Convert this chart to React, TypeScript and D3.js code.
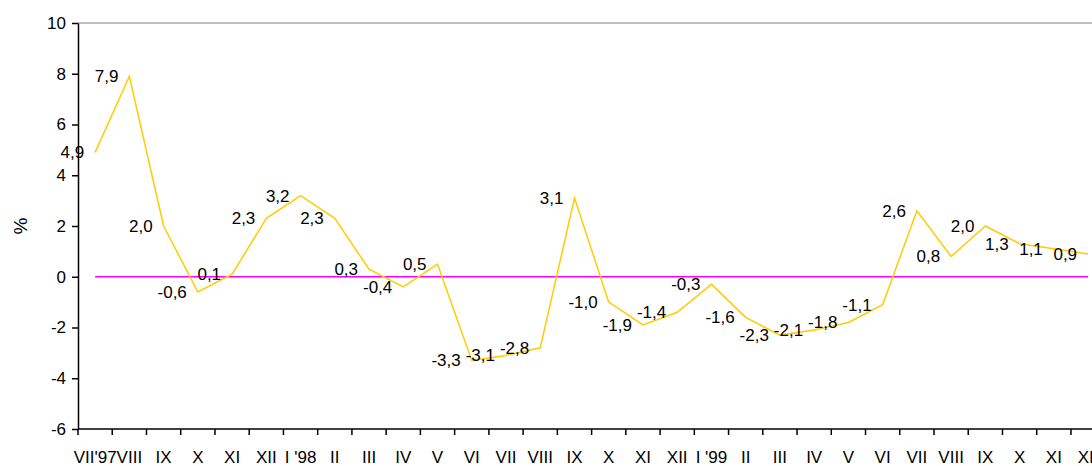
import React, { useEffect, useRef } from 'react';
import * as d3 from 'd3';

const months = ["VII'97", 'VIII', 'IX', 'X', 'XI', 'XII', "I '98", 'II', 'III', 'IV', 'V', 'VI', 'VII', 'VIII', 'IX', 'X', 'XI', 'XII', "I '99", 'II', 'III', 'IV', 'V', 'VI', 'VII', 'VIII', 'IX', 'X', 'XI', 'XII'];
const values = [4.9, 7.9, 2.0, -0.6, 0.1, 2.3, 3.2, 2.3, 0.3, -0.4, 0.5, -3.3, -3.1, -2.8, 3.1, -1.0, -1.9, -1.4, -0.3, -1.6, -2.3, -2.1, -1.8, -1.1, 2.6, 0.8, 2.0, 1.3, 1.1, 0.9];
const yTicks = [-6, -4, -2, 0, 2, 4, 6, 8, 10];

const W = 1092;
const H = 466;
const margin = { top: 23, left: 78, bottom: 429 };
const step = 34.24;
const font = '17px "Liberation Sans", Arial, sans-serif';

const fmt = (v: number) => v.toFixed(1).replace('.', ',');

export default function App() {
  const ref = useRef<SVGSVGElement>(null);

  useEffect(() => {
    const svg = d3.select(ref.current);
    svg.selectAll('*').remove();

    // keys are index-based since month names repeat
    const keys = months.map((_, i) => i);
    const x = d3.scaleBand<number>()
      .domain(keys)
      .range([margin.left, margin.left + step * months.length]);
    const y = d3.scaleLinear().domain([-6, 10]).range([margin.bottom, margin.top]);
    const cx = (i: number) => (x(i) as number) + x.bandwidth() / 2;

    svg.append('rect').attr('width', W).attr('height', H).attr('fill', 'white');

    // plot frame top
    svg.append('line')
      .attr('x1', margin.left).attr('x2', W)
      .attr('y1', margin.top).attr('y2', margin.top)
      .attr('stroke', '#808080').attr('stroke-width', 1);

    // y axis
    const yAxis = svg.append('g')
      .attr('transform', `translate(${margin.left},0)`)
      .call(d3.axisLeft(y).tickValues(yTicks).tickSize(6).tickSizeOuter(0).tickFormat(d => String(d)));
    yAxis.select('.domain').attr('stroke', 'black').attr('stroke-width', 1.5);
    yAxis.selectAll('.tick line').attr('stroke', 'black').attr('stroke-width', 1.5);
    yAxis.selectAll('.tick text')
      .style('font', font).attr('fill', 'black').attr('x', -12);

    // x axis: ticks at category boundaries
    const xg = svg.append('g');
    xg.append('line')
      .attr('x1', margin.left).attr('x2', W)
      .attr('y1', margin.bottom).attr('y2', margin.bottom)
      .attr('stroke', 'black').attr('stroke-width', 1.5);
    xg.selectAll('line.tk')
      .data(keys)
      .join('line')
      .attr('class', 'tk')
      .attr('x1', d => x(d) as number).attr('x2', d => x(d) as number)
      .attr('y1', margin.bottom).attr('y2', margin.bottom + 6)
      .attr('stroke', 'black').attr('stroke-width', 1.5);
    xg.selectAll('text')
      .data(keys)
      .join('text')
      .attr('x', d => cx(d))
      .attr('y', 463)
      .attr('text-anchor', 'middle')
      .style('font', font)
      .text(d => months[d]);

    // % label
    svg.append('text')
      .attr('transform', `translate(27,${y(2)}) rotate(-90)`)
      .attr('text-anchor', 'middle')
      .style('font', '19px "Liberation Sans", Arial, sans-serif')
      .text('%');

    // zero series
    svg.append('path')
      .datum(keys)
      .attr('fill', 'none')
      .attr('stroke', '#FF00FF')
      .attr('stroke-width', 1.5)
      .attr('d', d3.line<number>().x(d => cx(d)).y(() => y(0)));

    // main series
    svg.append('path')
      .datum(keys)
      .attr('fill', 'none')
      .attr('stroke', '#FFCC00')
      .attr('stroke-width', 1.5)
      .attr('d', d3.line<number>().x(d => cx(d)).y(d => y(values[d])));

    // data labels, left of points
    svg.append('g')
      .selectAll('text')
      .data(keys)
      .join('text')
      .attr('x', d => cx(d) - 11)
      .attr('y', d => y(values[d]))
      .attr('dy', '0.35em')
      .attr('text-anchor', 'end')
      .style('font', font)
      .text(d => fmt(values[d]));
  }, []);

  return (
    <svg ref={ref} width={W} height={H}
      style={{ position: 'absolute', left: 0, top: 0, display: 'block' }} />
  );
}
